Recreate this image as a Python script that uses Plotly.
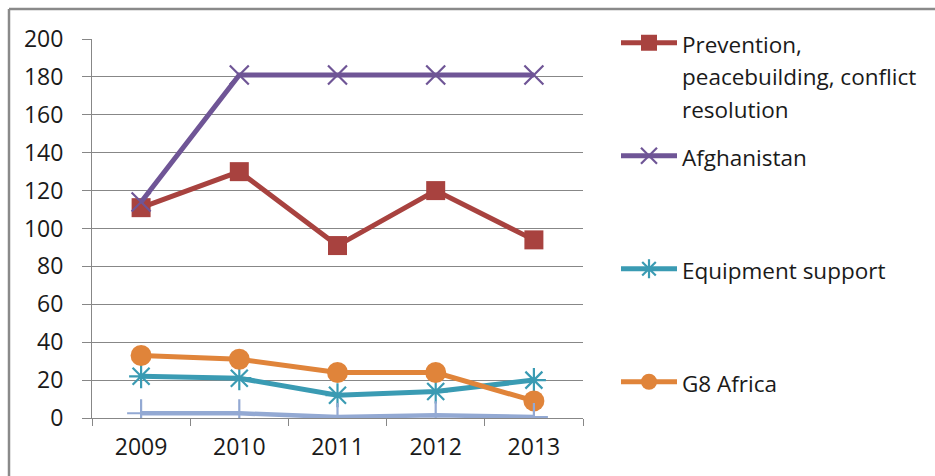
import plotly.graph_objects as go

# Funding by programme, 2009-2013
years = ["2009", "2010", "2011", "2012", "2013"]
prevention = [111, 130, 91, 120, 94]
afghanistan = [114, 181, 181, 181, 181]
equipment = [22, 21, 12, 14, 20]
g8_africa = [33, 31, 24, 24, 9]
other = [2.5, 2.5, 0.5, 1.5, 0.5]

y_ticks = list(range(0, 201, 20))

FONT = "Open Sans"
TICK = 23
LEG = 22.5
GRID = "#878787"

# page geometry (px)
W_PAGE, H_PAGE = 935, 476
M_L, M_R, M_T, M_B = 92, 352, 39, 58
PW = W_PAGE - M_L - M_R
PH = H_PAGE - M_T - M_B


def px_x(px):
    return (px - M_L) / PW


def px_y(py):
    return (H_PAGE - M_B - py) / PH


def label(text):
    lines = text.split("\n")
    return "<br>".join(f"<span style='font-size:{LEG}px'>{ln}</span>" for ln in lines)


fig = go.Figure()

fig.add_trace(go.Scatter(
    x=years, y=prevention, mode="lines+markers",
    name=label("Prevention,\npeacebuilding, conflict\nresolution"),
    line=dict(color="#A8423F", width=5),
    marker=dict(symbol="square", size=19, color="#A8423F"),
    legend="legend",
))
fig.add_trace(go.Scatter(
    x=years, y=afghanistan, mode="lines+markers",
    name=label("Afghanistan"),
    line=dict(color="#6F5596", width=5),
    marker=dict(symbol="x-thin", size=19, color="#6F5596",
                line=dict(color="#6F5596", width=2.2)),
    legend="legend2",
))
fig.add_trace(go.Scatter(
    x=years, y=equipment, mode="lines+markers",
    name=label("Equipment support"),
    line=dict(color="#3A9BB3", width=5),
    marker=dict(symbol="asterisk", size=20, color="#3A9BB3",
                line=dict(color="#3A9BB3", width=2.2)),
    legend="legend3",
))
fig.add_trace(go.Scatter(
    x=years, y=g8_africa, mode="lines+markers",
    name=label("G8 Africa"),
    line=dict(color="#E0843A", width=5),
    marker=dict(symbol="circle", size=21, color="#E0843A"),
    legend="legend4",
))
fig.add_trace(go.Scatter(
    x=years, y=other, mode="lines+markers",
    name="Other",
    line=dict(color="#93A9D3", width=4.5),
    marker=dict(symbol="cross-thin", size=20, color="#93A9D3",
                line=dict(color="#93A9D3", width=2.2)),
    showlegend=False,
))

legend_common = dict(
    xref="container", yref="container", xanchor="left", yanchor="top",
    font=dict(family=FONT, size=25, color="#1a1a1a"),
    bgcolor="rgba(0,0,0,0)", borderwidth=0, valign="top",
    itemwidth=56, itemclick=False, itemdoubleclick=False,
)
legend_tops = {"legend": 20, "legend2": 133, "legend3": 246, "legend4": 359}
for key, top in legend_tops.items():
    fig.update_layout({key: dict(legend_common, x=616 / W_PAGE, y=1 - top / H_PAGE)})

# outer chart frame (top and left edges)
fx, fy = px_x(9), px_y(9)
fig.add_shape(type="line", xref="paper", yref="paper",
              x0=fx, x1=fx, y0=px_y(H_PAGE + 5), y1=fy,
              line=dict(color="#8a8a8a", width=2.5))
fig.add_shape(type="line", xref="paper", yref="paper",
              x0=fx, x1=px_x(W_PAGE + 5), y0=fy, y1=fy,
              line=dict(color="#8a8a8a", width=2.5))

fig.update_layout(
    width=W_PAGE, height=H_PAGE,
    margin=dict(l=M_L, r=M_R, t=M_T, b=M_B),
    paper_bgcolor="white", plot_bgcolor="white",
    font=dict(family=FONT, size=TICK, color="#1a1a1a"),
    showlegend=True,
    hovermode=False,
)
fig.update_xaxes(
    type="category", categoryorder="array", categoryarray=years,
    range=[-0.5, len(years) - 0.5],
    tickson="boundaries", ticks="outside", ticklen=7, tickcolor=GRID, tickwidth=1,
    showline=True, linecolor=GRID, linewidth=1, showgrid=False,
    tickfont=dict(family=FONT, size=TICK, color="#1a1a1a"),
    ticklabelstandoff=8,
)
fig.update_yaxes(
    range=[0, 200], tickvals=y_ticks,
    ticks="outside", ticklen=9, tickcolor=GRID, tickwidth=1,
    showline=True, linecolor=GRID, linewidth=1,
    showgrid=True, gridcolor=GRID, gridwidth=1, zeroline=False,
    tickfont=dict(family=FONT, size=TICK, color="#1a1a1a"),
    ticklabelstandoff=14,
)

fig.write_html("out.html")
